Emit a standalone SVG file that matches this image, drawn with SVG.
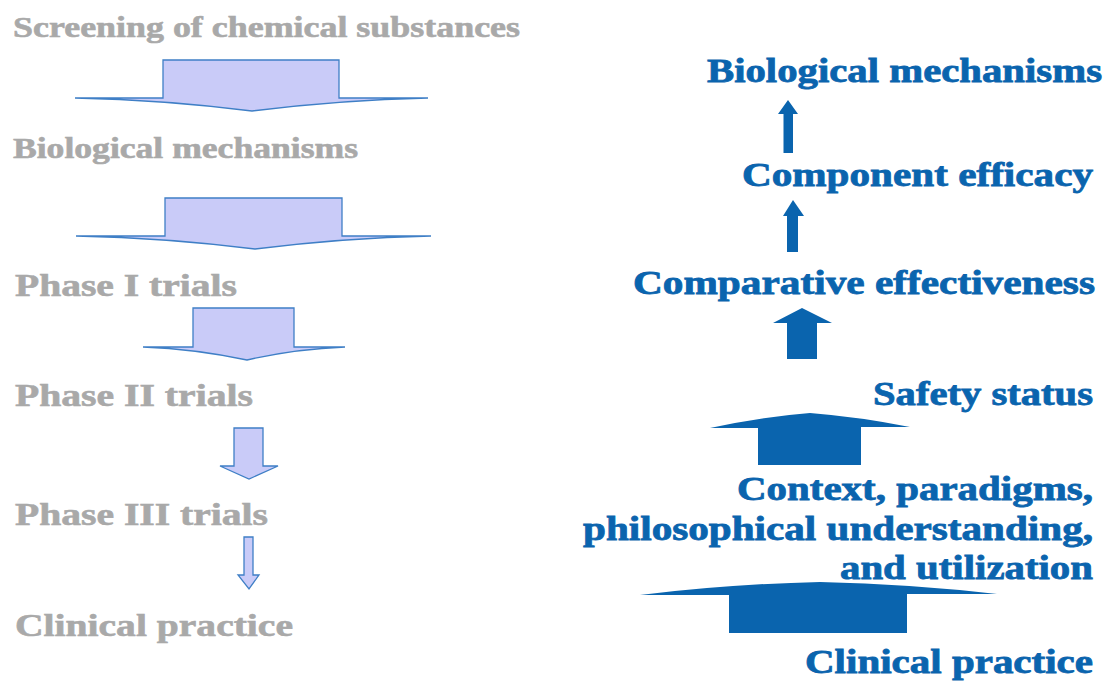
<svg xmlns="http://www.w3.org/2000/svg" width="1110" height="681" viewBox="0 0 1110 681">
<style>
  .gray { font-family: "Liberation Serif", "Times New Roman", Tinos, serif; font-weight: 700; fill: #a9a9a9; stroke: #a9a9a9; stroke-width: 0.6; }
  .blue { font-family: "Liberation Serif", "Times New Roman", Tinos, serif; font-weight: 700; fill: #0a64ae; stroke: #0a64ae; stroke-width: 0.8; font-size: 34px; }
  .down { fill: #c9cbf8; stroke: #3f7fc6; stroke-width: 1.3; stroke-linejoin: miter; }
  .up { fill: #0a64ae; stroke: none; }
</style>
<rect width="1110" height="681" fill="#ffffff"/>

<g id="left-screening"><text class="gray" x="13" y="37" font-size="29" textLength="507" lengthAdjust="spacingAndGlyphs">Screening of chemical substances</text></g>
<g id="left-biological"><text class="gray" x="13" y="158" font-size="29" textLength="345" lengthAdjust="spacingAndGlyphs">Biological mechanisms</text></g>
<g id="left-phase1"><text class="gray" x="15" y="296" font-size="31" textLength="222" lengthAdjust="spacingAndGlyphs">Phase I trials</text></g>
<g id="left-phase2"><text class="gray" x="15" y="406" font-size="31" textLength="238" lengthAdjust="spacingAndGlyphs">Phase II trials</text></g>
<g id="left-phase3"><text class="gray" x="15" y="525" font-size="31" textLength="253" lengthAdjust="spacingAndGlyphs">Phase III trials</text></g>
<g id="left-clinical"><text class="gray" x="15" y="636" font-size="31" textLength="278" lengthAdjust="spacingAndGlyphs">Clinical practice</text></g>

<g id="right-biological"><text class="blue" x="707" y="82" textLength="395" lengthAdjust="spacingAndGlyphs">Biological mechanisms</text></g>
<g id="right-component"><text class="blue" x="742" y="186" textLength="351" lengthAdjust="spacingAndGlyphs">Component efficacy</text></g>
<g id="right-comparative"><text class="blue" x="633" y="294" textLength="462" lengthAdjust="spacingAndGlyphs">Comparative effectiveness</text></g>
<g id="right-safety"><text class="blue" x="873" y="405" textLength="220" lengthAdjust="spacingAndGlyphs">Safety status</text></g>
<g id="right-context">
  <text class="blue" x="737" y="500" textLength="356" lengthAdjust="spacingAndGlyphs">Context, paradigms,</text>
  <text class="blue" x="583" y="540" textLength="510" lengthAdjust="spacingAndGlyphs">philosophical understanding,</text>
  <text class="blue" x="840" y="579" textLength="253" lengthAdjust="spacingAndGlyphs">and utilization</text>
</g>
<g id="right-clinical"><text class="blue" x="805" y="673" textLength="288" lengthAdjust="spacingAndGlyphs">Clinical practice</text></g>

<g id="connectors">
  <path class="down" d="M163,60 H339 V98 H428 Q340,100 252,111 Q165,100 75,98 H163 Z"/>
  <path class="down" d="M165,198 H342 V236 H431 Q343,238 255,249 Q167,238 76,236 H165 Z"/>
  <path class="down" d="M193,308 H294 V347 H345 Q295,349 247,360 Q195,349 143,347 H193 Z"/>
  <path class="down" d="M234,428 H263 V466 H278 L249,479 L220,466 H234 Z"/>
  <path class="down" d="M244,537 H253 V575 H259 L249,589 L238,575 H244 Z"/>

  <path class="up" d="M783.5,153 V114 H778 L788,100 L798,114 H793 V153 Z"/>
  <path class="up" d="M787,252 V216 H783 L793,200 L804,216 H798 V252 Z"/>
  <path class="up" d="M787,359 V323 H773 L802,308 L832,323 H817 V359 Z"/>
  <path class="up" d="M758,465 V428 H710 Q760,417 810,413 Q860,417 910,427 H861 V465 Z"/>
  <path class="up" d="M729,633 V595 H640 Q730,584 820,582 Q910,584 997,594 H907 V633 Z"/>
</g>
</svg>
